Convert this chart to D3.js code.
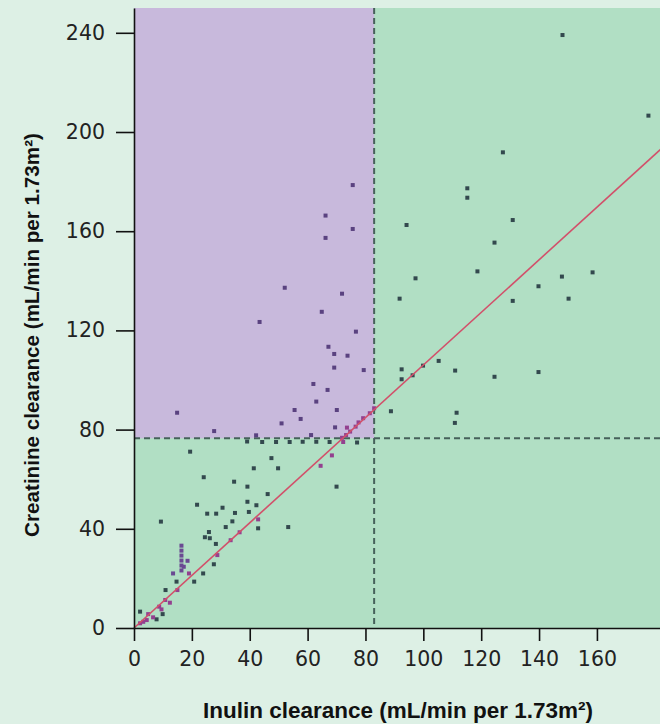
<!DOCTYPE html>
<html>
<head>
<meta charset="utf-8">
<script src="https://cdn.jsdelivr.net/npm/d3@7"></script>
<style>
  html, body { margin: 0; padding: 0; background: #ddf0e5; }
  svg { display: block; }
</style>
</head>
<body>
<div id="chart"></div>
<script>
// Inulin vs creatinine clearance scatter

// data
var inulin = [
  177.8, 148.1, 127.5, 115.2, 115.2, 94.2, 130.9, 124.6, 118.7, 97.3,
  91.8, 147.9, 158.5, 139.8, 130.9, 150.2, 92.5, 92.5, 96.3, 99.9,
  105.3, 111, 124.6, 139.8, 111.5, 110.9, 88.8,
  75.6, 66.2, 75.6, 66.2, 52.1, 71.9, 64.9, 43.4, 76.7, 67.2,
  69.2, 73.8, 69.2, 79.4, 62, 66.9, 63, 55.5, 70.1, 57.6,
  51, 14.9, 27.7, 61.2, 69.5, 73.6,
  83, 81.5, 79.2, 77.6, 76.6, 74.7, 73.3, 71.9,
  39.1, 42.2, 44.3, 49.1, 53.8, 58.3, 63, 67.6, 72.3, 77.1,
  19.4, 47.5, 41.4, 49.8, 68.4, 64.5, 70, 24.1, 34.6, 39.2,
  46.2, 21.8, 30.6, 39.2, 42.3, 25.3, 28.4, 34.9, 39.7, 34,
  31.7, 42.9, 42.9, 53.3, 9.3, 25.9, 36.5, 24.5, 26.2, 28.3,
  33.4, 28.8, 27.6, 16.4, 16.4, 16.4, 16.4, 16.4, 16.4, 17.2,
  18.5, 13.5, 19, 23.9, 14.7, 20.8, 10.9, 15, 12.4, 10.8,
  8.7, 9.5, 2.1, 4.9, 9.9, 7.8, 3.2, 4.4, 2.1, 6.6
];
var creatinine = [
  206.6, 239.1, 191.8, 177.3, 173.5, 162.5, 164.5, 155.4, 143.8, 141,
  132.8, 141.7, 143.4, 137.8, 131.9, 132.8, 104.3, 100.3, 101.9, 105.8,
  107.7, 103.8, 101.3, 103.2, 86.8, 82.7, 87.4,
  178.6, 166.3, 160.9, 157.3, 137.2, 134.8, 127.5, 123.4, 119.5, 113.4,
  110.5, 109.8, 105, 104, 98.4, 96, 91.3, 87.9, 87.9, 84.3,
  82.5, 86.8, 79.4, 77.8, 80.9, 80.8,
  88.6, 86.6, 84.6, 82.9, 81.2, 79.2, 77.8, 76.7,
  75.2, 77.7, 75, 75, 75, 75.1, 75.1, 75, 75, 74.8,
  71.1, 68.5, 64.4, 64.4, 69.6, 65.4, 57, 60.8, 59, 57,
  54, 49.7, 48.5, 50.9, 49.5, 46.1, 46.1, 46.4, 46.8, 43,
  40.7, 43.8, 40.2, 40.7, 42.9, 38.7, 38.6, 36.6, 36.2, 33.9,
  35.4, 29.4, 25.7, 33.2, 31.2, 29.2, 27.2, 25.2, 23.2, 24.7,
  27.1, 22, 22, 22, 18.7, 18.7, 15.3, 15.3, 10.2, 11.3,
  8.6, 7.5, 6.6, 5.6, 5.6, 3.5, 2.5, 3.2, 1.9, 4.3
];

// reference line and cut-offs
var lineX = [0, 182];
var lineY = [0, 193];
var inulinCut = 83;
var creatinineCut = 76.5;

var xTicks = [0, 20, 40, 60, 80, 100, 120, 140, 160];
var yTicks = [0, 40, 80, 120, 160, 200, 240];

var width = 660, height = 724;
var margin = {top: 8, right: 0, bottom: 96, left: 134};

var svg = d3.select('#chart').append('svg')
    .attr('width', width)
    .attr('height', height);

var x = d3.scaleLinear().domain([0, 181.8]).range([margin.left, width - margin.right]);
var y = d3.scaleLinear().domain([0, 250]).range([height - margin.bottom, margin.top]);

// plot background
svg.append('rect')
    .attr('x', x(0)).attr('y', y(250))
    .attr('width', x(181.8) - x(0)).attr('height', y(0) - y(250))
    .attr('fill', '#b1dfc4');

svg.append('rect')
    .attr('x', x(0)).attr('y', y(250))
    .attr('width', x(inulinCut) - x(0)).attr('height', y(creatinineCut) - y(250))
    .attr('fill', '#c8b9dc');

// dashed cut-offs
svg.append('line')
    .attr('x1', x(inulinCut)).attr('x2', x(inulinCut))
    .attr('y1', y(250)).attr('y2', y(0))
    .attr('stroke', '#46615a').attr('stroke-width', 2)
    .attr('stroke-dasharray', '6,4');

svg.append('line')
    .attr('x1', x(0)).attr('x2', x(181.8))
    .attr('y1', y(creatinineCut)).attr('y2', y(creatinineCut))
    .attr('stroke', '#46615a').attr('stroke-width', 2)
    .attr('stroke-dasharray', '6,4');

// points
var pts = inulin.map(function(d, i) { return {x: d, y: creatinine[i]}; });

function pointColor(p) {
    if (Math.abs(p.y - 1.06 * p.x) < 3 && p.x < 90) return '#93408f';
    if (p.x < 20 && p.y > 20 && p.y < 35) return '#6a4a92';
    if (p.x < inulinCut && p.y > creatinineCut) return '#5a4280';
    return '#33494e';
}

svg.append('g').selectAll('rect')
    .data(pts)
    .enter().append('rect')
    .attr('x', function(d) { return x(d.x) - 2; })
    .attr('y', function(d) { return y(d.y) - 2; })
    .attr('width', 4)
    .attr('height', 4)
    .attr('fill', pointColor);

// reference line
svg.append('line')
    .attr('x1', x(lineX[0])).attr('y1', y(lineY[0]))
    .attr('x2', x(lineX[1])).attr('y2', y(lineY[1]))
    .attr('stroke', '#d2506a')
    .attr('stroke-width', 1.6);

// axes
var xAxis = d3.axisBottom(x).tickValues(xTicks).tickSize(13).tickSizeOuter(0).tickPadding(10);
var yAxis = d3.axisLeft(y).tickValues(yTicks).tickSize(18).tickSizeOuter(0).tickPadding(11);

var gx = svg.append('g')
    .attr('transform', 'translate(0,' + y(0) + ')')
    .call(xAxis);

var gy = svg.append('g')
    .attr('transform', 'translate(' + x(0) + ',0)')
    .call(yAxis);

[gx, gy].forEach(function(g) {
    g.selectAll('path, line').attr('stroke', '#111').attr('stroke-width', 1.6);
    g.selectAll('text')
        .attr('fill', '#222')
        .style('font-family', 'DejaVu Sans')
        .style('font-size', '20.5px');
});

// axis titles, sized to the span they take in the picture
function fitTitle(t, span) {
    var w = t.node().getComputedTextLength();
    t.style('font-size', (17 * span / w) + 'px');
}

var xTitle = svg.append('text')
    .attr('x', 398).attr('y', 718)
    .attr('text-anchor', 'middle')
    .style('font-family', 'Liberation Sans')
    .style('font-weight', 'bold')
    .style('font-size', '17px')
    .attr('fill', '#111')
    .text('Inulin clearance (mL/min per 1.73m\u00b2)');
fitTitle(xTitle, 390);

var yTitle = svg.append('text')
    .attr('transform', 'translate(39,335) rotate(-90)')
    .attr('text-anchor', 'middle')
    .style('font-family', 'Liberation Sans')
    .style('font-weight', 'bold')
    .style('font-size', '17px')
    .attr('fill', '#111')
    .text('Creatinine clearance (mL/min per 1.73m\u00b2)');
fitTitle(yTitle, 404);
</script>
</body>
</html>
